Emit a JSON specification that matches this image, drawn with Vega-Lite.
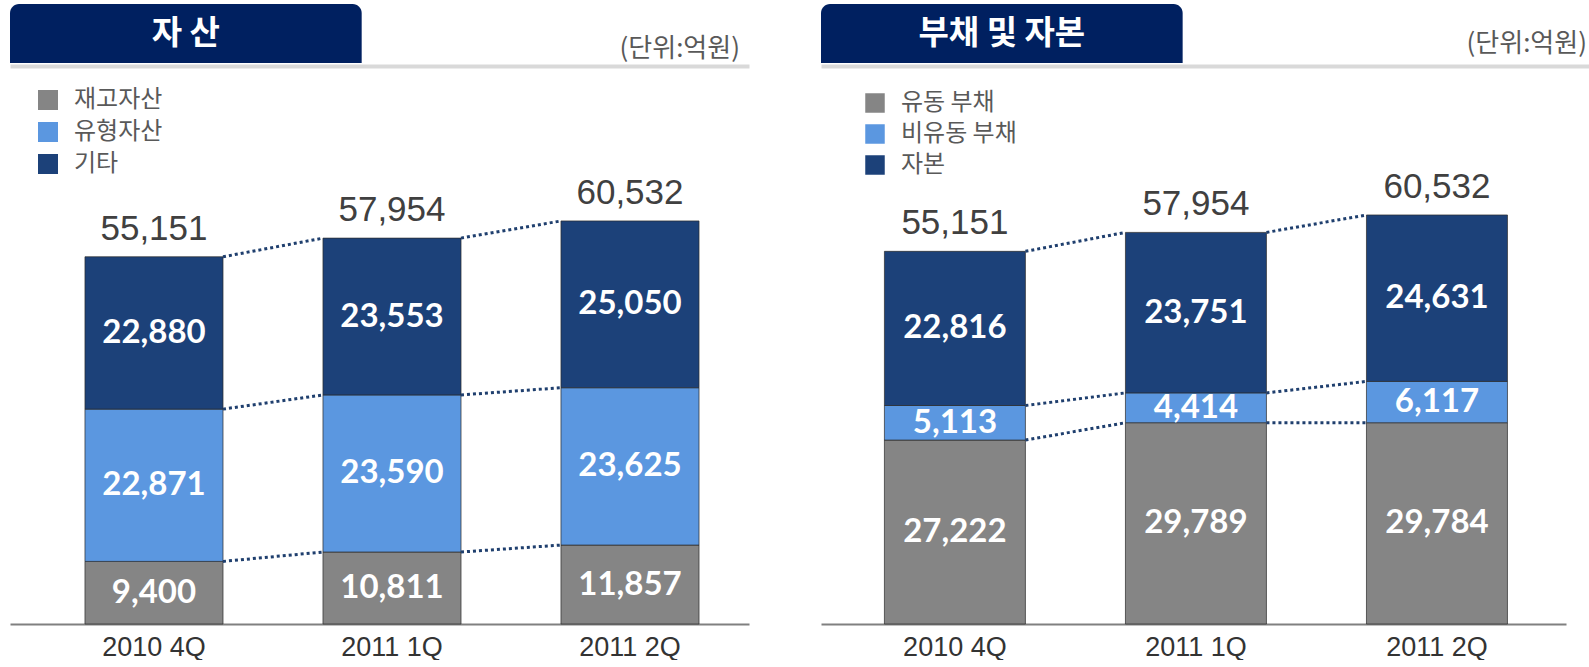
{
  "$schema": "https://vega.github.io/schema/vega-lite/v6.json",
  "background": "white",
  "padding": {"left": 10, "top": 4, "right": 0, "bottom": 0},
  "config": {"view": {"stroke": null}},
  "resolve": {"scale": {"color": "independent"}, "legend": {"color": "independent"}},
  "datasets": {
    "assets": [
      {"quarter": "2010 4Q", "series": "재고자산", "k": 1, "value": 9400},
      {"quarter": "2010 4Q", "series": "유형자산", "k": 2, "value": 22871},
      {"quarter": "2010 4Q", "series": "기타", "k": 3, "value": 22880},
      {"quarter": "2011 1Q", "series": "재고자산", "k": 1, "value": 10811},
      {"quarter": "2011 1Q", "series": "유형자산", "k": 2, "value": 23590},
      {"quarter": "2011 1Q", "series": "기타", "k": 3, "value": 23553},
      {"quarter": "2011 2Q", "series": "재고자산", "k": 1, "value": 11857},
      {"quarter": "2011 2Q", "series": "유형자산", "k": 2, "value": 23625},
      {"quarter": "2011 2Q", "series": "기타", "k": 3, "value": 25050}
    ],
    "liab": [
      {"quarter": "2010 4Q", "series": "유동 부채", "k": 1, "value": 27222},
      {"quarter": "2010 4Q", "series": "비유동 부채", "k": 2, "value": 5113},
      {"quarter": "2010 4Q", "series": "자본", "k": 3, "value": 22816},
      {"quarter": "2011 1Q", "series": "유동 부채", "k": 1, "value": 29789},
      {"quarter": "2011 1Q", "series": "비유동 부채", "k": 2, "value": 4414},
      {"quarter": "2011 1Q", "series": "자본", "k": 3, "value": 23751},
      {"quarter": "2011 2Q", "series": "유동 부채", "k": 1, "value": 29784},
      {"quarter": "2011 2Q", "series": "비유동 부채", "k": 2, "value": 6117},
      {"quarter": "2011 2Q", "series": "자본", "k": 3, "value": 24631}
    ],
    "assetLinks": [
      {"from": "2010 4Q", "to": "2011 1Q", "a": 9400, "b": 10811},
      {"from": "2011 1Q", "to": "2011 2Q", "a": 10811, "b": 11857},
      {"from": "2010 4Q", "to": "2011 1Q", "a": 32271, "b": 34401},
      {"from": "2011 1Q", "to": "2011 2Q", "a": 34401, "b": 35482},
      {"from": "2010 4Q", "to": "2011 1Q", "a": 55151, "b": 57954},
      {"from": "2011 1Q", "to": "2011 2Q", "a": 57954, "b": 60532}
    ],
    "liabLinks": [
      {"from": "2010 4Q", "to": "2011 1Q", "a": 27222, "b": 29789},
      {"from": "2011 1Q", "to": "2011 2Q", "a": 29789, "b": 29784},
      {"from": "2010 4Q", "to": "2011 1Q", "a": 32335, "b": 34203},
      {"from": "2011 1Q", "to": "2011 2Q", "a": 34203, "b": 35901},
      {"from": "2010 4Q", "to": "2011 1Q", "a": 55151, "b": 57954},
      {"from": "2011 1Q", "to": "2011 2Q", "a": 57954, "b": 60532}
    ]
  },
  "hconcat": [
    {
      "spacing": 10,
      "vconcat": [
        {
          "width": 739,
          "height": 59,
          "data": {"values": [{"role": "title", "label": "자 산"}, {"role": "unit", "label": "(단위:억원)"}]},
          "layer": [
            {
              "transform": [{"filter": "datum.role === 'title'"}],
              "mark": {"type": "rect", "color": "#002060", "cornerRadiusTopLeft": 9, "cornerRadiusTopRight": 9},
              "encoding": {
                "x": {"field": "role", "type": "nominal", "sort": ["title", "unit"], "scale": {"domain": ["title", "unit"], "paddingInner": 0.092, "paddingOuter": 0}, "axis": {"labels": false, "ticks": false, "title": null, "grid": false, "domainColor": "#d9d9d9", "domainWidth": 4, "offset": 3}}
              }
            },
            {
              "transform": [{"filter": "datum.role === 'title'"}],
              "mark": {"type": "text", "color": "white", "font": "Noto Sans CJK KR", "fontWeight": "bold", "fontSize": 33},
              "encoding": {
                "x": {"field": "role", "type": "nominal", "title": null},
                "text": {"field": "label"}
              }
            },
            {
              "transform": [{"filter": "datum.role === 'unit'"}],
              "mark": {"type": "text", "align": "right", "color": "#595959", "font": "Noto Sans CJK KR", "fontSize": 26, "dy": 15, "dx": -9},
              "encoding": {
                "x": {"field": "role", "type": "nominal", "bandPosition": 1, "title": null},
                "text": {"field": "label"}
              }
            }
          ]
        },
        {
          "width": 739,
          "height": 548,
          "layer": [
            {
              "data": {"name": "assets"},
              "mark": {"type": "bar", "stroke": "#2b2b2b", "strokeWidth": 1, "strokeOpacity": 0.7},
              "encoding": {
                "x": {"field": "quarter", "type": "nominal", "sort": ["2010 4Q", "2011 1Q", "2011 2Q"], "scale": {"paddingInner": 0.42, "paddingOuter": 0.2625, "align": 0.6}, "axis": {"title": null, "labelAngle": 0, "ticks": false, "grid": false, "domainColor": "#808080", "domainWidth": 2, "labelFont": "Liberation Sans", "labelFontSize": 27, "labelColor": "#333333", "labelPadding": 10}},
                "y": {"field": "value", "type": "quantitative", "stack": "zero", "scale": {"domain": [0, 82300], "nice": false}, "axis": null},
                "color": {"field": "series", "type": "nominal", "scale": {"domain": ["재고자산", "유형자산", "기타"], "range": ["#858585", "#5b97e0", "#1c4179"]},
                  "legend": {"orient": "none", "legendX": 26, "legendY": 84, "title": null, "symbolType": "square", "symbolSize": 400, "symbolStrokeWidth": 0, "labelFont": "Noto Sans CJK KR", "labelFontSize": 24, "labelColor": "#595959", "labelOffset": 14, "rowPadding": 8, "padding": 0}},
                "order": {"field": "k", "type": "quantitative"}
              }
            },
            {
              "data": {"name": "assetLinks"},
              "mark": {"type": "rule", "color": "#1f3f6e", "strokeWidth": 3, "strokeDash": [3, 3], "xOffset": 69, "x2Offset": -69},
              "encoding": {
                "x": {"field": "from", "type": "nominal", "title": null},
                "x2": {"field": "to"},
                "y": {"field": "a", "type": "quantitative"},
                "y2": {"field": "b"}
              }
            },
            {
              "data": {"name": "assets"},
              "mark": {"type": "text", "color": "white", "font": "Lato", "fontWeight": "bold", "fontSize": 33},
              "encoding": {
                "x": {"field": "quarter", "type": "nominal", "title": null},
                "y": {"field": "value", "type": "quantitative", "stack": "zero", "bandPosition": 0.5},
                "detail": {"field": "series"},
                "order": {"field": "k", "type": "quantitative"},
                "text": {"field": "value", "type": "quantitative", "format": ","}
              }
            },
            {
              "data": {"name": "assets"},
              "mark": {"type": "text", "baseline": "alphabetic", "dy": -17, "font": "Liberation Sans", "fontSize": 35, "color": "#404040"},
              "encoding": {
                "x": {"field": "quarter", "type": "nominal", "title": null},
                "y": {"aggregate": "sum", "field": "value", "type": "quantitative"},
                "text": {"aggregate": "sum", "field": "value", "type": "quantitative", "format": ","}
              }
            }
          ]
        }
      ]
    },
    {
      "spacing": 10,
      "vconcat": [
        {
          "width": 768,
          "height": 59,
          "data": {"values": [{"role": "title", "label": "부채 및 자본"}, {"role": "unit", "label": "(단위:억원)"}]},
          "layer": [
            {
              "transform": [{"filter": "datum.role === 'title'"}],
              "mark": {"type": "rect", "color": "#002060", "cornerRadiusTopLeft": 9, "cornerRadiusTopRight": 9},
              "encoding": {
                "x": {"field": "role", "type": "nominal", "sort": ["title", "unit"], "scale": {"domain": ["title", "unit"], "paddingInner": 0.11, "paddingOuter": 0}, "axis": {"labels": false, "ticks": false, "title": null, "grid": false, "domainColor": "#d9d9d9", "domainWidth": 4, "offset": 3}}
              }
            },
            {
              "transform": [{"filter": "datum.role === 'title'"}],
              "mark": {"type": "text", "color": "white", "font": "Noto Sans CJK KR", "fontWeight": "bold", "fontSize": 33},
              "encoding": {
                "x": {"field": "role", "type": "nominal", "title": null},
                "text": {"field": "label"}
              }
            },
            {
              "transform": [{"filter": "datum.role === 'unit'"}],
              "mark": {"type": "text", "align": "right", "color": "#595959", "font": "Noto Sans CJK KR", "fontSize": 26, "dy": 10, "dx": -2},
              "encoding": {
                "x": {"field": "role", "type": "nominal", "bandPosition": 1, "title": null},
                "text": {"field": "label"}
              }
            }
          ]
        },
        {
          "width": 745,
          "height": 548,
          "layer": [
            {
              "data": {"name": "liab"},
              "mark": {"type": "bar", "stroke": "#2b2b2b", "strokeWidth": 1, "strokeOpacity": 0.7},
              "encoding": {
                "x": {"field": "quarter", "type": "nominal", "sort": ["2010 4Q", "2011 1Q", "2011 2Q"], "scale": {"paddingInner": 0.415, "paddingOuter": 0.253, "align": 0.52}, "axis": {"title": null, "labelAngle": 0, "ticks": false, "grid": false, "domainColor": "#808080", "domainWidth": 2, "labelFont": "Liberation Sans", "labelFontSize": 27, "labelColor": "#333333", "labelPadding": 10}},
                "y": {"field": "value", "type": "quantitative", "stack": "zero", "scale": {"domain": [0, 81100], "nice": false}, "axis": null},
                "color": {"field": "series", "type": "nominal", "scale": {"domain": ["유동 부채", "비유동 부채", "자본"], "range": ["#858585", "#5b97e0", "#1c4179"]},
                  "legend": {"orient": "none", "legendX": 42, "legendY": 87, "title": null, "symbolType": "square", "symbolSize": 380, "symbolStrokeWidth": 0, "labelFont": "Noto Sans CJK KR", "labelFontSize": 24, "labelColor": "#595959", "labelOffset": 14, "rowPadding": 7, "padding": 0}},
                "order": {"field": "k", "type": "quantitative"}
              }
            },
            {
              "data": {"name": "liabLinks"},
              "mark": {"type": "rule", "color": "#1f3f6e", "strokeWidth": 3, "strokeDash": [3, 3], "xOffset": 70.5, "x2Offset": -70.5},
              "encoding": {
                "x": {"field": "from", "type": "nominal", "title": null},
                "x2": {"field": "to"},
                "y": {"field": "a", "type": "quantitative"},
                "y2": {"field": "b"}
              }
            },
            {
              "data": {"name": "liab"},
              "mark": {"type": "text", "color": "white", "font": "Lato", "fontWeight": "bold", "fontSize": 33},
              "encoding": {
                "x": {"field": "quarter", "type": "nominal", "title": null},
                "y": {"field": "value", "type": "quantitative", "stack": "zero", "bandPosition": 0.5},
                "detail": {"field": "series"},
                "order": {"field": "k", "type": "quantitative"},
                "text": {"field": "value", "type": "quantitative", "format": ","}
              }
            },
            {
              "data": {"name": "liab"},
              "mark": {"type": "text", "baseline": "alphabetic", "dy": -17, "font": "Liberation Sans", "fontSize": 35, "color": "#404040"},
              "encoding": {
                "x": {"field": "quarter", "type": "nominal", "title": null},
                "y": {"aggregate": "sum", "field": "value", "type": "quantitative"},
                "text": {"aggregate": "sum", "field": "value", "type": "quantitative", "format": ","}
              }
            }
          ]
        }
      ]
    }
  ],
  "spacing": 72
}
